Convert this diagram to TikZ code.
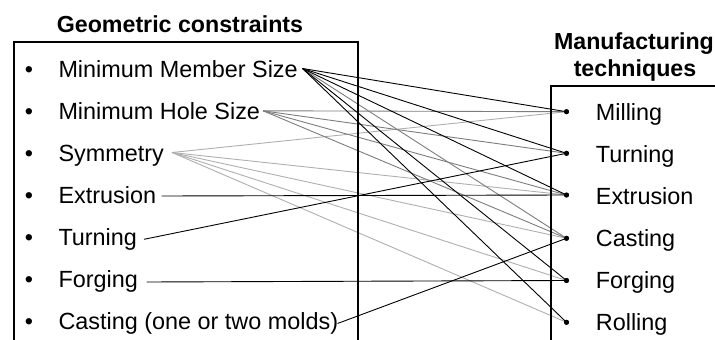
\documentclass[tikz,border=0pt]{standalone}
\usepackage{fontspec}
\setmainfont{Liberation Sans}
\definecolor{midgray}{RGB}{125,125,125}
\definecolor{lightgray2}{RGB}{175,175,175}
\begin{document}
\begin{tikzpicture}[x=1pt,y=-1pt,
  txt/.style={font=\fontsize{23.4}{26}\selectfont, inner sep=0pt, anchor=base west},
  ttl/.style={font=\fontsize{23.2}{26}\selectfont\bfseries, inner sep=0pt, anchor=base},
  bul/.style={font=\fontsize{23.4}{26}\selectfont, inner sep=0pt, anchor=base},
  frame/.style={line width=2pt, line cap=rect},
  dotn/.style={circle, fill=black, inner sep=0pt, minimum size=5pt},
  cblack/.style={line width=0.9pt, black},
  cmid/.style={line width=0.9pt, midgray},
  clight/.style={line width=0.9pt, lightgray2}]
\clip (0,0) rectangle (715,340);

% titles
\node[ttl] (t1) at (180,32) {Geometric constraints};
\node[ttl] (t2a) at (634,49.5) {Manufacturing};
\node[ttl] (t2b) at (635,76) {techniques};

% left items
\foreach \i/\t in {0/Minimum Member Size,1/Minimum Hole Size,2/Symmetry,3/Extrusion,4/Turning,5/Forging,6/Casting (one or two molds)}{
  \node[bul] (b\i) at (29,77.3+42*\i) {•};
  \node[txt] (l\i) at (58.3,77.3+42*\i) {\t};
}
% right items
\foreach \i/\t/\y in {1/Milling/111.7,2/Turning/153.3,3/Extrusion/195,4/Casting/238.3,5/Forging/280.5,6/Rolling/322.3}{
  \node[txt] (r\i) at (595.7,120.5+42*\i-42) {\t};
  \node[dotn] (d\i) at (566.5,\y) {};
}

% connector start points
\coordinate (g0) at (302.5,68.5);
\coordinate (g1) at (263,110.8);
\coordinate (g2) at (172,152.5);
\coordinate (g3) at (161.5,196);
\coordinate (g4) at (144,239.3);
\coordinate (g5) at (146.5,282);
\coordinate (g6) at (337.5,323.5);

% Symmetry
\foreach \j in {1,3,4,5,6} \draw[clight] (g2) -- (d\j.center);
% Minimum Hole Size
\foreach \j in {1,2,3,4} \draw[cmid] (g1) -- (d\j.center);
% Minimum Member Size
\draw[cmid] (g0) -- (d4.center);
\foreach \j in {1,2,3,5,6} \draw[cblack] (g0) -- (d\j.center);
% direct ones
\draw[cblack] (g3) -- (d3.center);
\draw[cblack] (g4) -- (d2.center);
\draw[cblack] (g5) -- (d5.center);
\draw[cblack] (g6) -- (d4.center);

% frames
\draw[frame] (14,345) -- (14,42) -- (358,42) -- (358,345);
\draw[frame] (551,345) -- (551,86) -- (720,86);

% dots on top
\foreach \i in {1,...,6}
  \fill (d\i.center) circle (2.5pt);
\end{tikzpicture}
\end{document}
